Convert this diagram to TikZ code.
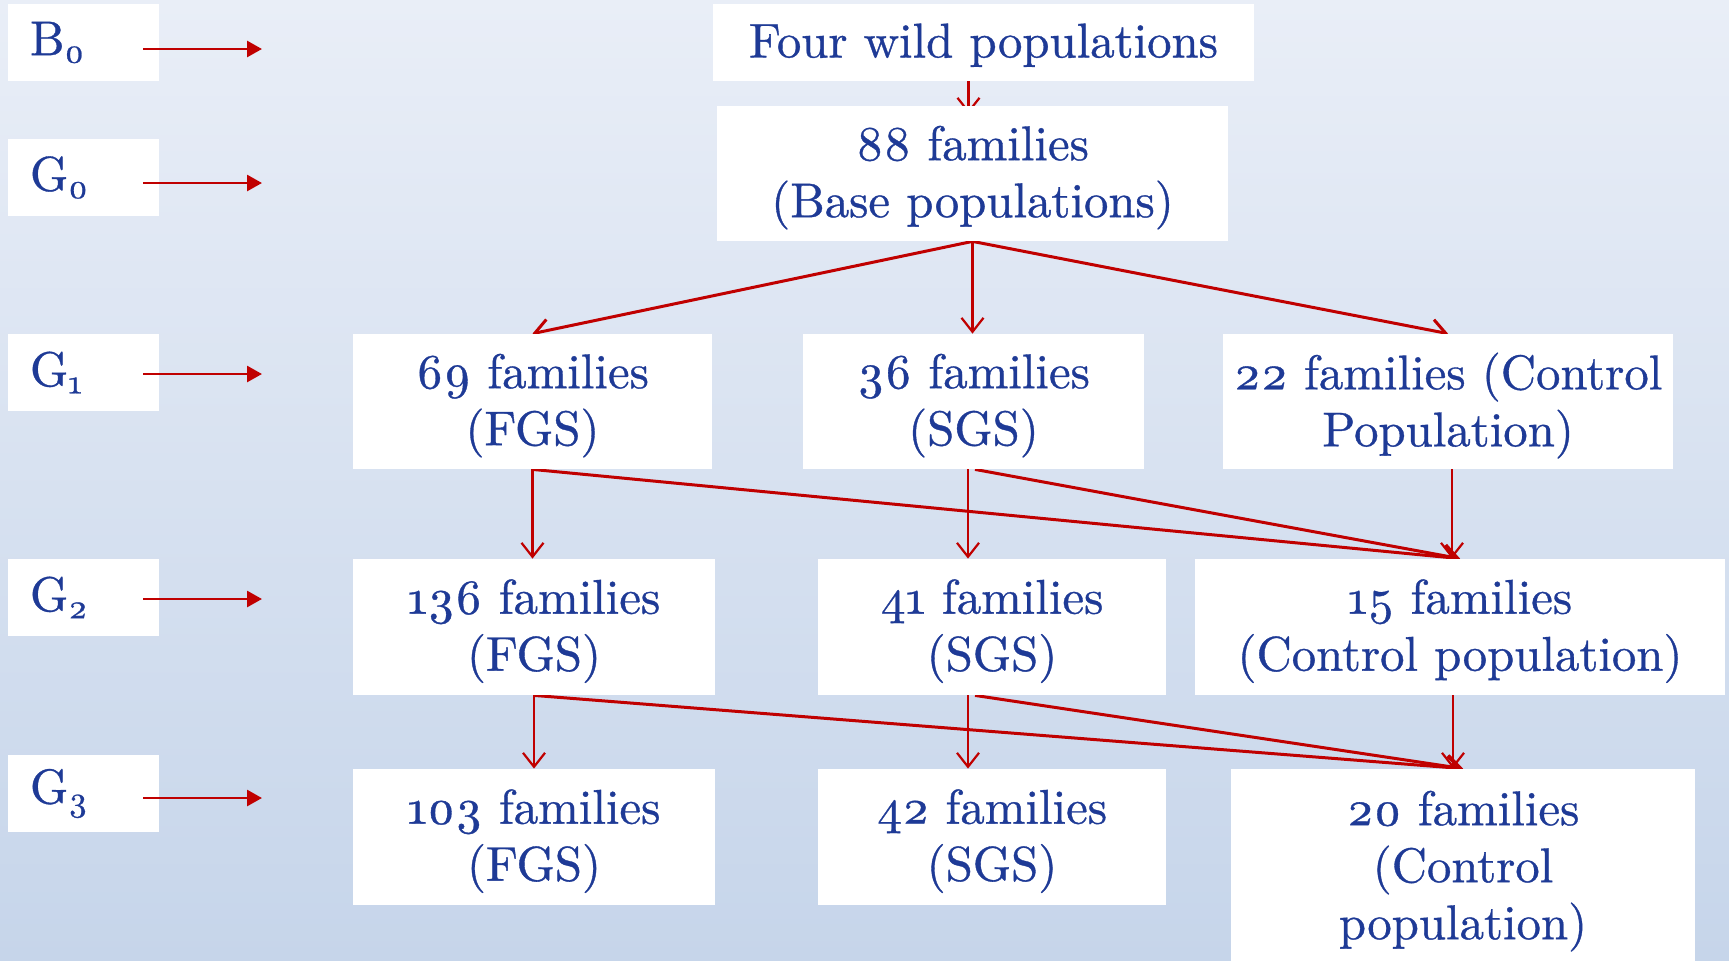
\RequirePackage{fix-cm}
\documentclass[tikz,border=0pt]{standalone}
\usepackage{fontspec}
\setmainfont{lmroman10-regular.otf}[FakeBold=0.7]
\usetikzlibrary{arrows.meta,calc,backgrounds}
\definecolor{txtblue}{RGB}{30,58,150}
\definecolor{arrred}{RGB}{192,0,0}
\definecolor{bgtop}{RGB}{233,238,247}
\definecolor{bgbot}{RGB}{198,213,234}
\newcommand{\osn}[1]{\oldstylenums{#1}}
\newcommand{\gen}[2]{#1\textsubscript{\osn{#2}}}

\begin{document}
\begin{tikzpicture}[x=0.5pt,y=-0.5pt,
  box/.style={fill=white, draw=none, inner sep=0pt, align=center,
    text=txtblue, font=\fontsize{24.4}{28.5}\selectfont, text depth=2pt},
  rowbox/.style={box, minimum height=67.5pt},
  genbox/.style={fill=white, draw=none, text=txtblue, align=left,
    inner xsep=11pt, inner ysep=0pt, text width=53.5pt,
    minimum height=38.5pt, font=\fontsize{24.4}{28.5}\selectfont},
  link/.style={draw=arrred, line width=1.5pt,
    -{Straight Barb[length=7pt,width=11pt]}},
  vlink/.style={link, line width=1.1pt},
  side/.style={draw=arrred, line width=1.4pt,
    -{Triangle[length=7.5pt,width=8pt]}}]

\useasboundingbox (0,0) rectangle (1729,960);

% generation labels
\node[genbox] (g-b0) at (83.5,42.5)  {\gen{B}{0}};
\node[genbox] (g-g0) at (83.5,177.5) {\gen{G}{0}};
\node[genbox] (g-g1) at (83.5,372.5) {\gen{G}{1}};
\node[genbox] (g-g2) at (83.5,597.5) {\gen{G}{2}};
\node[genbox] (g-g3) at (83.5,793.5) {\gen{G}{3}};

% population boxes
\node[box, minimum width=270.5pt, minimum height=38.5pt] (wild) at (983.5,42.5) {Four wild populations};
\node[rowbox, minimum width=255.5pt] (base) at (972.5,173.5) {\osn{88} families\\(Base populations)};

\node[rowbox, minimum width=179.5pt] (r1a) at (532.5,401.5) {\osn{69} families\\(FGS)};
\node[rowbox, minimum width=170.5pt] (r1b) at (973.5,401.5) {\osn{36} families\\(SGS)};
\node[rowbox, minimum width=225pt]   (r1c) at (1448,401.5)  {\osn{22} families (Control\\Population)};

\node[rowbox, minimum width=181pt, minimum height=68pt] (r2a) at (534,627)  {\osn{136} families\\(FGS)};
\node[rowbox, minimum width=174pt, minimum height=68pt] (r2b) at (992,627)  {\osn{41} families\\(SGS)};
\node[rowbox, minimum width=265pt, minimum height=68pt] (r2c) at (1460,627) {\osn{15} families\\(Control population)};

\node[rowbox, minimum width=181pt, minimum height=68pt] (r3a) at (534,837)  {\osn{103} families\\(FGS)};
\node[rowbox, minimum width=174pt, minimum height=68pt] (r3b) at (992,837)  {\osn{42} families\\(SGS)};
\node[box, minimum width=232pt, minimum height=98pt]    (r3c) at (1463,867) {\osn{20} families\\(Control\\population)};

% generation arrows, starting inside the label boxes
\foreach \i/\y in {0/49,1/183,2/374,3/599,4/798}{
  \coordinate (ls\i) at (143,\y);
  \coordinate (le\i) at (262,\y);
  \draw[side] (ls\i) -- (le\i);
}

\begin{pgfonlayer}{background}
  \shade[top color=bgtop, bottom color=bgbot] (0,0) rectangle (1729,960);

  % wild -> base, tip tucked under the box
  \coordinate (w0) at ($(wild.south)+(-15,0)$);
  \draw[vlink] (w0) -- ($(w0 |- base.north)+(0,8)$);

  % base -> G1
  \draw[link] (base.south) -- (r1a.north);
  \draw[vlink] (base.south) -- (base.south |- r1b.north);
  \draw[link] (base.south) -- (r1c.north);

  % G1 -> G2
  \draw[vlink] (r1a.south) -- (r1a.south |- r2a.north);
  \draw[link] (r1a.south) -- (r2c.north);
  \coordinate (b1l) at ($(r1b.south)+(-5.5,0)$);
  \coordinate (b1r) at ($(r1b.south)+(1.5,0)$);
  \draw[vlink] (b1l) -- (b1l |- r2b.north);
  \draw[link] (b1r) -- (r2c.north);
  \coordinate (c1) at ($(r1c.south)+(4,0)$);
  \draw[vlink] (c1) -- (c1 |- r2c.north);

  % G2 -> G3
  \draw[vlink] (r2a.south) -- (r2a.south |- r3a.north);
  \draw[link] (r2a.south) -- (r3c.north);
  \coordinate (b2l) at ($(r2b.south)+(-24,0)$);
  \coordinate (b2r) at ($(r2b.south)+(-17,0)$);
  \draw[vlink] (b2l) -- (b2l |- r3b.north);
  \draw[link] (b2r) -- (r3c.north);
  \coordinate (c2) at ($(r2c.south)+(-7,0)$);
  \draw[vlink] (c2) -- (c2 |- r3c.north);
\end{pgfonlayer}
\end{tikzpicture}
\end{document}
